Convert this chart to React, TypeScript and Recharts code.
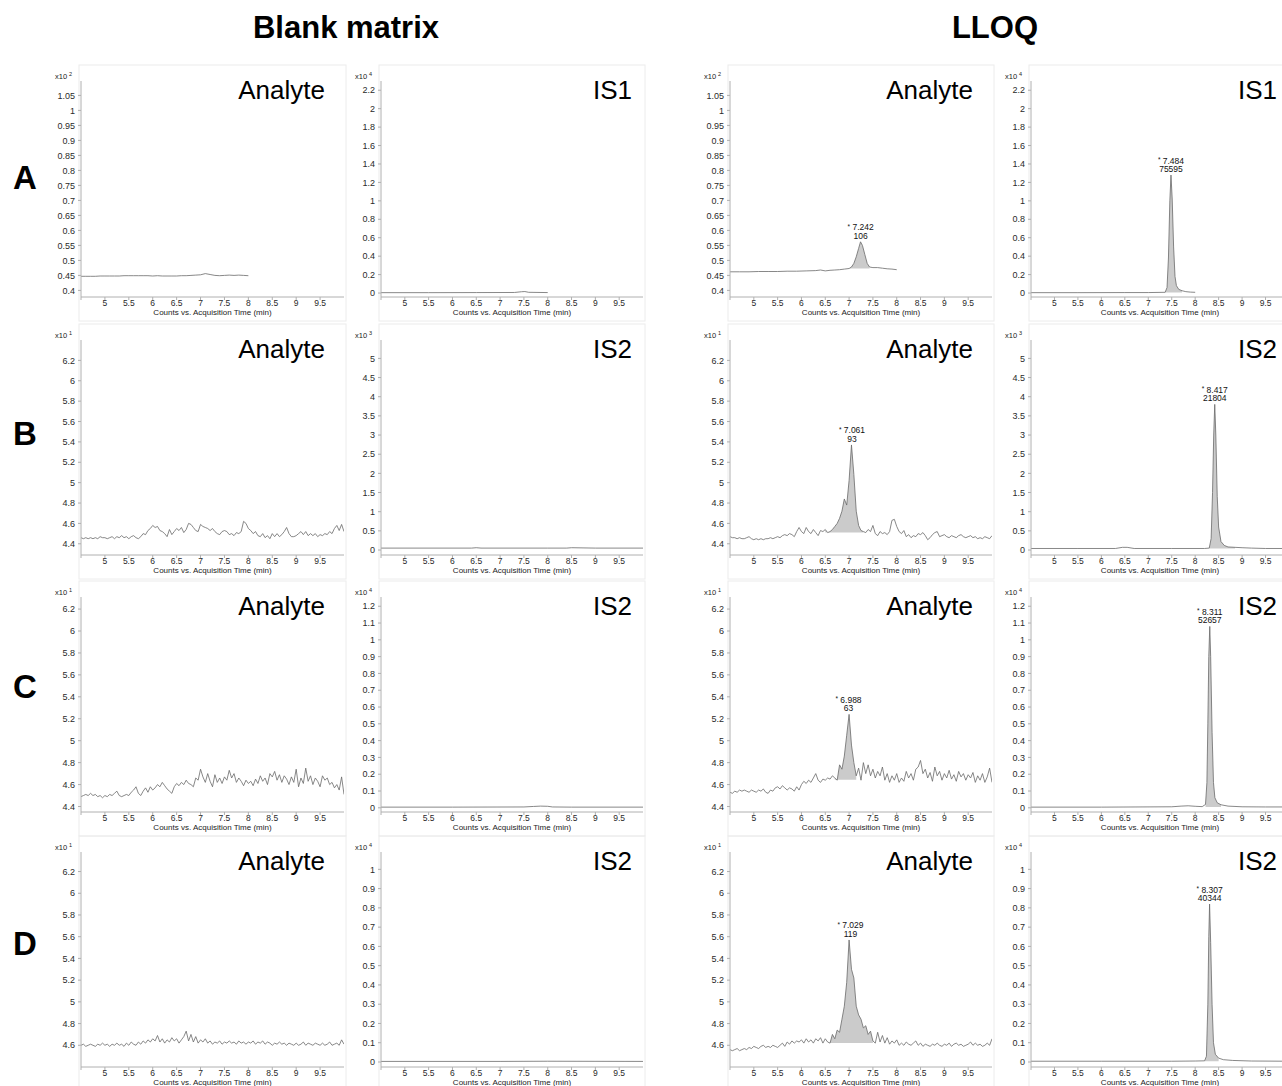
import React from 'react';
import { ComposedChart, Line, Area, XAxis, YAxis, ReferenceDot, Label } from 'recharts';

const FONT = '"Liberation Sans", Arial, Helvetica, sans-serif';

// acquisition time grids (min)
const GRID = [
  4.5, 4.55, 4.6, 4.65, 4.7, 4.75, 4.8, 4.85, 4.9, 4.95,
  5, 5.05, 5.1, 5.15, 5.2, 5.25, 5.3, 5.35, 5.4, 5.45,
  5.5, 5.55, 5.6, 5.65, 5.7, 5.75, 5.8, 5.85, 5.9, 5.95,
  6, 6.05, 6.1, 6.15, 6.2, 6.25, 6.3, 6.35, 6.4, 6.45,
  6.5, 6.55, 6.6, 6.65, 6.7, 6.75, 6.8, 6.85, 6.9, 6.95,
  7, 7.05, 7.1, 7.15, 7.2, 7.25, 7.3, 7.35, 7.4, 7.45,
  7.5, 7.55, 7.6, 7.65, 7.7, 7.75, 7.8, 7.85, 7.9, 7.95,
  8, 8.05, 8.1, 8.15, 8.2, 8.25, 8.3, 8.35, 8.4, 8.45,
  8.5, 8.55, 8.6, 8.65, 8.7, 8.75, 8.8, 8.85, 8.9, 8.95,
  9, 9.05, 9.1, 9.15, 9.2, 9.25, 9.3, 9.35, 9.4, 9.45,
  9.5, 9.55, 9.6, 9.65, 9.7, 9.75, 9.8, 9.85, 9.9, 9.95,
  10,
];
const GRID_A = [
  4.5, 4.6, 4.7, 4.8, 4.9, 5, 5.1, 5.2, 5.3, 5.4,
  5.5, 5.6, 5.7, 5.8, 5.9, 6, 6.1, 6.2, 6.3, 6.4,
  6.5, 6.6, 6.7, 6.8, 6.9, 7, 7.1, 7.2, 7.3, 7.4,
  7.5, 7.6, 7.7, 7.8, 7.9, 8,
];

const X_DOMAIN = [4.5, 10];
const X_TICKS = [4.5, 5, 5.5, 6, 6.5, 7, 7.5, 8, 8.5, 9, 9.5];

// ---- row A ----
const A1_BLANK_ANALYTE = [
  0.447, 0.447, 0.447, 0.447, 0.448, 0.448, 0.448, 0.448, 0.448, 0.449,
  0.449, 0.449, 0.449, 0.449, 0.449, 0.448, 0.449, 0.448, 0.448, 0.448,
  0.448, 0.449, 0.449, 0.45, 0.451, 0.452, 0.456, 0.453, 0.45, 0.449,
  0.45, 0.451, 0.45, 0.451, 0.45, 0.449,
];
const A2_TIMES = [4.5, 5.5, 6.5, 7.3, 7.45, 7.52, 7.6, 8.0];
const A2_BLANK_IS1 = [0.004, 0.004, 0.005, 0.006, 0.014, 0.016, 0.008, 0.005];
const A3_TIMES = [
  4.5, 4.7, 4.9, 5.1, 5.3, 5.5, 5.7, 5.9, 6.1, 6.3, 6.4, 6.5, 6.6, 6.7, 6.8, 6.9,
  7.0, 7.05, 7.1, 7.15, 7.2, 7.24, 7.28, 7.33, 7.38, 7.43, 7.5, 7.6, 7.7, 7.8, 7.9, 8.0,
];
const A3_LLOQ_ANALYTE = [
  0.462, 0.462, 0.462, 0.463, 0.463, 0.463, 0.464, 0.464, 0.465, 0.466, 0.468, 0.465, 0.467, 0.468, 0.469, 0.471,
  0.473, 0.478, 0.49, 0.512, 0.54, 0.562, 0.55, 0.52, 0.49, 0.478, 0.476, 0.476, 0.474, 0.472, 0.471, 0.469,
];
const A4_TIMES = [4.5, 5.5, 6.5, 7.0, 7.36, 7.4, 7.43, 7.46, 7.484, 7.51, 7.54, 7.57, 7.6, 7.65, 7.72, 7.8, 7.9, 8.0];
const A4_LLOQ_IS1 = [0.004, 0.004, 0.005, 0.005, 0.008, 0.06, 0.38, 1.0, 1.28, 1.02, 0.5, 0.18, 0.08, 0.04, 0.025, 0.015, 0.01, 0.008];

// ---- row B ----
const B1_BLANK_ANALYTE = [
  4.46, 4.45, 4.46, 4.45, 4.46, 4.45, 4.46, 4.45, 4.47, 4.46,
  4.46, 4.45, 4.46, 4.47, 4.45, 4.47, 4.46, 4.48, 4.46, 4.47,
  4.45, 4.47, 4.48, 4.46, 4.45, 4.47, 4.5, 4.49, 4.53, 4.55,
  4.58, 4.56, 4.57, 4.53, 4.52, 4.5, 4.47, 4.54, 4.49, 4.52,
  4.55, 4.53, 4.56, 4.51, 4.54, 4.6, 4.59, 4.56, 4.53, 4.52,
  4.59, 4.57, 4.56, 4.55, 4.53, 4.55, 4.52, 4.5, 4.49, 4.52,
  4.53, 4.52, 4.49, 4.5, 4.48, 4.51, 4.5, 4.52, 4.62, 4.6,
  4.55, 4.53, 4.5, 4.52, 4.48, 4.47, 4.5, 4.46, 4.48, 4.45,
  4.5, 4.47, 4.5, 4.47, 4.49, 4.52, 4.56, 4.5, 4.47, 4.47,
  4.48, 4.5, 4.52, 4.49, 4.52, 4.48, 4.5, 4.48, 4.5, 4.47,
  4.49, 4.48, 4.5, 4.49, 4.52, 4.5, 4.55, 4.58, 4.53, 4.59,
  4.52,
];
const B2_TIMES = [4.5, 6.4, 6.5, 6.6, 8.0, 8.4, 8.5, 9.0, 10];
const B2_BLANK_IS2 = [0.05, 0.05, 0.06, 0.05, 0.05, 0.05, 0.06, 0.05, 0.05];
const B3_LLOQ_ANALYTE = [
  4.47, 4.46, 4.46, 4.45, 4.46, 4.45, 4.45, 4.46, 4.47, 4.45,
  4.44, 4.45, 4.44, 4.45, 4.44, 4.45, 4.45, 4.46, 4.45, 4.46,
  4.47, 4.46, 4.48, 4.49, 4.48, 4.5, 4.49, 4.47, 4.52, 4.56,
  4.52, 4.5, 4.56, 4.52, 4.5, 4.54, 4.51, 4.48, 4.53, 4.52,
  4.54, 4.51, 4.52, 4.54, 4.57, 4.6, 4.65, 4.72, 4.84, 4.78,
  5.02, 5.37, 5.08, 4.72, 4.58, 4.53, 4.52, 4.51, 4.54, 4.52,
  4.58, 4.5, 4.48, 4.52, 4.5, 4.51, 4.49, 4.52, 4.63, 4.64,
  4.57, 4.52, 4.5, 4.53, 4.47, 4.49, 4.46, 4.48, 4.47, 4.5,
  4.49, 4.51, 4.48, 4.44, 4.46, 4.49, 4.51, 4.52, 4.47, 4.48,
  4.49, 4.47, 4.46, 4.48, 4.47, 4.46, 4.48, 4.49, 4.47, 4.46,
  4.47, 4.48, 4.46, 4.47, 4.45, 4.46, 4.45, 4.47, 4.46, 4.45,
  4.48,
];
const B4_TIMES = [
  4.5, 5.5, 6.3, 6.45, 6.55, 6.7, 7.5, 8.2, 8.3, 8.34, 8.37, 8.395,
  8.417, 8.44, 8.47, 8.5, 8.55, 8.62, 8.7, 8.85, 9.0, 9.2, 9.5, 10,
];
const B4_LLOQ_IS2 = [
  0.04, 0.04, 0.04, 0.07, 0.07, 0.04, 0.04, 0.04, 0.05, 0.3, 1.5, 3.0,
  3.8, 3.0, 1.4, 0.6, 0.22, 0.12, 0.08, 0.07, 0.06, 0.05, 0.04, 0.04,
];

// ---- row C ----
const C1_BLANK_ANALYTE = [
  4.49, 4.5, 4.51, 4.5, 4.52, 4.5, 4.51, 4.49, 4.5, 4.48,
  4.5, 4.49, 4.51, 4.5, 4.52, 4.54, 4.5, 4.49, 4.5, 4.51,
  4.5, 4.53, 4.55, 4.58, 4.52, 4.5, 4.54, 4.57, 4.53, 4.58,
  4.55, 4.57, 4.6, 4.58, 4.62, 4.59, 4.56, 4.54, 4.52, 4.58,
  4.61, 4.59, 4.62, 4.6, 4.64, 4.61, 4.6, 4.58, 4.66, 4.64,
  4.74, 4.67, 4.62, 4.7, 4.63, 4.58, 4.69, 4.62, 4.66, 4.61,
  4.67, 4.64, 4.73, 4.66, 4.7, 4.62, 4.66, 4.63, 4.59, 4.64,
  4.61, 4.63, 4.59, 4.65, 4.61, 4.68, 4.63, 4.66, 4.6, 4.7,
  4.67, 4.72, 4.64, 4.69, 4.62, 4.68, 4.65, 4.6, 4.67, 4.62,
  4.74, 4.58, 4.66, 4.61, 4.75, 4.63, 4.68, 4.6, 4.66, 4.63,
  4.58, 4.68, 4.64, 4.66, 4.6, 4.62, 4.57, 4.6, 4.55, 4.67,
  4.51,
];
const C2_TIMES = [4.5, 6.0, 7.5, 7.7, 7.85, 8.0, 8.1, 8.5, 10];
const C2_BLANK_IS2 = [0.004, 0.004, 0.005, 0.008, 0.01, 0.009, 0.005, 0.004, 0.004];
const C3_LLOQ_ANALYTE = [
  4.53, 4.52, 4.54, 4.53, 4.55, 4.54, 4.55, 4.54, 4.53, 4.55,
  4.54, 4.53, 4.55, 4.54, 4.56, 4.53, 4.52, 4.55, 4.54, 4.57,
  4.58, 4.56, 4.59, 4.57, 4.55, 4.57, 4.56, 4.54, 4.58, 4.55,
  4.6, 4.63, 4.61, 4.64, 4.62, 4.66, 4.7, 4.64, 4.62, 4.65,
  4.64, 4.66, 4.65, 4.68, 4.66, 4.64, 4.78, 4.74, 4.86, 5.05,
  5.24, 4.96, 4.8, 4.68, 4.75, 4.64, 4.8, 4.7, 4.78, 4.68,
  4.74, 4.66, 4.72, 4.68, 4.76, 4.64, 4.7, 4.62, 4.68, 4.64,
  4.7, 4.62, 4.66, 4.63, 4.72, 4.66, 4.7, 4.64, 4.74, 4.76,
  4.82, 4.7, 4.74, 4.66, 4.71, 4.63, 4.76, 4.68, 4.72, 4.64,
  4.7, 4.66, 4.73, 4.65, 4.69, 4.63, 4.72, 4.67, 4.7, 4.64,
  4.69, 4.66, 4.71, 4.62, 4.68, 4.64, 4.7, 4.62, 4.67, 4.75,
  4.62,
];
const C4_TIMES = [
  4.5, 6.0, 7.5, 7.7, 7.85, 8.0, 8.15, 8.22, 8.25, 8.27, 8.29,
  8.311, 8.33, 8.36, 8.39, 8.42, 8.47, 8.55, 8.7, 9.0, 9.5, 10,
];
const C4_LLOQ_IS2 = [
  0.004, 0.004, 0.006, 0.01, 0.012, 0.009, 0.007, 0.02, 0.15, 0.5, 0.9,
  1.08, 0.9, 0.45, 0.15, 0.06, 0.03, 0.018, 0.01, 0.006, 0.005, 0.005,
];

// ---- row D ----
const D1_BLANK_ANALYTE = [
  4.6, 4.61, 4.59, 4.6, 4.61, 4.6, 4.59, 4.61, 4.6, 4.62,
  4.6, 4.61, 4.59, 4.61, 4.6, 4.62, 4.6, 4.61, 4.59, 4.62,
  4.6, 4.63, 4.61, 4.6, 4.63, 4.61, 4.64, 4.62, 4.65, 4.63,
  4.66, 4.64, 4.69, 4.63, 4.66, 4.62, 4.65, 4.63, 4.67, 4.64,
  4.66, 4.62, 4.65, 4.68, 4.73, 4.64, 4.7, 4.63, 4.68, 4.62,
  4.65, 4.63, 4.66, 4.62, 4.64, 4.61, 4.63, 4.62, 4.64, 4.61,
  4.63, 4.62, 4.64, 4.62, 4.63, 4.61, 4.64, 4.62, 4.63, 4.61,
  4.63, 4.62, 4.64, 4.61, 4.63, 4.62, 4.64, 4.61, 4.63, 4.62,
  4.6, 4.62, 4.61, 4.63, 4.61, 4.62, 4.6, 4.62, 4.61, 4.6,
  4.62, 4.6, 4.61, 4.63, 4.6, 4.62, 4.61, 4.6, 4.62, 4.61,
  4.6, 4.62, 4.6, 4.61, 4.63, 4.6, 4.61, 4.62, 4.6, 4.65,
  4.61,
];
const D2_TIMES = [4.5, 7.0, 8.0, 10];
const D2_BLANK_IS2 = [0.003, 0.003, 0.004, 0.003];
const D3_LLOQ_ANALYTE = [
  4.56, 4.55, 4.56, 4.57, 4.55, 4.56, 4.57, 4.56, 4.58, 4.57,
  4.59, 4.58, 4.57, 4.59, 4.6, 4.58, 4.59, 4.58, 4.6, 4.59,
  4.58, 4.6, 4.62, 4.59, 4.63, 4.61, 4.64, 4.62, 4.64, 4.63,
  4.65, 4.62, 4.66, 4.63, 4.65, 4.62, 4.66, 4.64, 4.67, 4.62,
  4.66, 4.63, 4.62, 4.7, 4.66, 4.74, 4.72, 4.84, 4.96, 5.18,
  5.57, 5.3, 5.22, 4.96, 4.88, 4.84, 4.76, 4.78, 4.7, 4.73,
  4.64, 4.62, 4.72, 4.63, 4.69, 4.62, 4.67, 4.61, 4.64, 4.62,
  4.65, 4.6, 4.62, 4.6, 4.63, 4.61, 4.6, 4.62, 4.64, 4.6,
  4.62, 4.59, 4.61, 4.6, 4.59, 4.61, 4.6, 4.62, 4.6, 4.59,
  4.61, 4.6, 4.62, 4.59, 4.61, 4.62, 4.6, 4.61, 4.59, 4.6,
  4.61, 4.63, 4.6, 4.62, 4.6, 4.61, 4.59, 4.6, 4.62, 4.6,
  4.66,
];
const D4_TIMES = [4.5, 6.0, 7.5, 8.0, 8.2, 8.24, 8.27, 8.29, 8.307, 8.33, 8.36, 8.39, 8.43, 8.5, 8.6, 8.8, 9.2, 10];
const D4_LLOQ_IS2 = [0.004, 0.004, 0.004, 0.005, 0.006, 0.03, 0.3, 0.65, 0.82, 0.62, 0.3, 0.1, 0.04, 0.02, 0.012, 0.008, 0.005, 0.004];

// integration windows: [start, end, baseline]
const A3_WIN = [7.0, 7.43, 0.473];
const A4_WIN = [7.36, 7.72, 0.005];
const B3_WIN = [6.5, 7.3, 4.51];
const B4_WIN = [8.3, 8.85, 0.04];
const C3_WIN = [6.7, 7.15, 4.645];
const C4_WIN = [8.22, 8.55, 0.005];
const D3_WIN = [6.6, 7.5, 4.62];
const D4_WIN = [8.2, 8.5, 0.004];

// peak annotations (RT, apex height, area)
const A3_PEAK = { rt: 7.242, apex: 0.562, area: '106' };
const A4_PEAK = { rt: 7.484, apex: 1.28, area: '75595' };
const B3_PEAK = { rt: 7.061, apex: 5.37, area: '93' };
const B4_PEAK = { rt: 8.417, apex: 3.8, area: '21804' };
const C3_PEAK = { rt: 6.988, apex: 5.24, area: '63' };
const C4_PEAK = { rt: 8.311, apex: 1.08, area: '52657' };
const D3_PEAK = { rt: 7.029, apex: 5.57, area: '119' };
const D4_PEAK = { rt: 8.307, apex: 0.82, area: '40344' };

// y axes
const DOM_A_ANALYTE = [0.378, 1.098];
const TICKS_A_ANALYTE = [0.4, 0.45, 0.5, 0.55, 0.6, 0.65, 0.7, 0.75, 0.8, 0.85, 0.9, 0.95, 1, 1.05];
const DOM_A_IS1 = [-0.043, 2.3];
const TICKS_IS1 = [0, 0.2, 0.4, 0.6, 0.8, 1, 1.2, 1.4, 1.6, 1.8, 2, 2.2];
const DOM_B_ANALYTE = [4.29, 6.4];
const DOM_C_ANALYTE = [4.35, 6.31];
const TICKS_ANALYTE_BC = [4.4, 4.6, 4.8, 5, 5.2, 5.4, 5.6, 5.8, 6, 6.2];
const DOM_D_ANALYTE = [4.4, 6.38];
const TICKS_ANALYTE_D = [4.6, 4.8, 5, 5.2, 5.4, 5.6, 5.8, 6, 6.2];
const DOM_B_IS2 = [-0.13, 5.48];
const TICKS_IS2_B = [0, 0.5, 1, 1.5, 2, 2.5, 3, 3.5, 4, 4.5, 5];
const DOM_C_IS2 = [-0.025, 1.255];
const TICKS_IS2_C = [0, 0.1, 0.2, 0.3, 0.4, 0.5, 0.6, 0.7, 0.8, 0.9, 1, 1.1, 1.2];
const DOM_D_IS2 = [-0.026, 1.09];
const TICKS_IS2_D = [0, 0.1, 0.2, 0.3, 0.4, 0.5, 0.6, 0.7, 0.8, 0.9, 1];

const ROW_LETTERS = ['A', 'B', 'C', 'D'];

// layout
const COLS = [
  { axisX: 81, plotW: 263, labelEnd: 325 },
  { axisX: 381, plotW: 262, labelEnd: 632 },
  { axisX: 730, plotW: 262, labelEnd: 973 },
  { axisX: 1031, plotW: 258, labelEnd: 1277 },
];
const ROWS = [
  { top: 81, bottom: 297, letterY: 189 },
  { top: 340, bottom: 555, letterY: 445 },
  { top: 597, bottom: 812, letterY: 698 },
  { top: 852, bottom: 1067, letterY: 955 },
];

type Peak = { rt: number; apex: number; area: string };
type PanelDef = {
  row: number;
  col: number;
  times: number[];
  values: number[];
  domain: number[];
  ticks: number[];
  exp: string;
  label: string;
  win?: number[];
  peak?: Peak;
};

const PANELS: PanelDef[] = [
  { row: 0, col: 0, times: GRID_A, values: A1_BLANK_ANALYTE, domain: DOM_A_ANALYTE, ticks: TICKS_A_ANALYTE, exp: '2', label: 'Analyte' },
  { row: 0, col: 1, times: A2_TIMES, values: A2_BLANK_IS1, domain: DOM_A_IS1, ticks: TICKS_IS1, exp: '4', label: 'IS1' },
  { row: 0, col: 2, times: A3_TIMES, values: A3_LLOQ_ANALYTE, domain: DOM_A_ANALYTE, ticks: TICKS_A_ANALYTE, exp: '2', label: 'Analyte', win: A3_WIN, peak: A3_PEAK },
  { row: 0, col: 3, times: A4_TIMES, values: A4_LLOQ_IS1, domain: DOM_A_IS1, ticks: TICKS_IS1, exp: '4', label: 'IS1', win: A4_WIN, peak: A4_PEAK },

  { row: 1, col: 0, times: GRID, values: B1_BLANK_ANALYTE, domain: DOM_B_ANALYTE, ticks: TICKS_ANALYTE_BC, exp: '1', label: 'Analyte' },
  { row: 1, col: 1, times: B2_TIMES, values: B2_BLANK_IS2, domain: DOM_B_IS2, ticks: TICKS_IS2_B, exp: '3', label: 'IS2' },
  { row: 1, col: 2, times: GRID, values: B3_LLOQ_ANALYTE, domain: DOM_B_ANALYTE, ticks: TICKS_ANALYTE_BC, exp: '1', label: 'Analyte', win: B3_WIN, peak: B3_PEAK },
  { row: 1, col: 3, times: B4_TIMES, values: B4_LLOQ_IS2, domain: DOM_B_IS2, ticks: TICKS_IS2_B, exp: '3', label: 'IS2', win: B4_WIN, peak: B4_PEAK },

  { row: 2, col: 0, times: GRID, values: C1_BLANK_ANALYTE, domain: DOM_C_ANALYTE, ticks: TICKS_ANALYTE_BC, exp: '1', label: 'Analyte' },
  { row: 2, col: 1, times: C2_TIMES, values: C2_BLANK_IS2, domain: DOM_C_IS2, ticks: TICKS_IS2_C, exp: '4', label: 'IS2' },
  { row: 2, col: 2, times: GRID, values: C3_LLOQ_ANALYTE, domain: DOM_C_ANALYTE, ticks: TICKS_ANALYTE_BC, exp: '1', label: 'Analyte', win: C3_WIN, peak: C3_PEAK },
  { row: 2, col: 3, times: C4_TIMES, values: C4_LLOQ_IS2, domain: DOM_C_IS2, ticks: TICKS_IS2_C, exp: '4', label: 'IS2', win: C4_WIN, peak: C4_PEAK },

  { row: 3, col: 0, times: GRID, values: D1_BLANK_ANALYTE, domain: DOM_D_ANALYTE, ticks: TICKS_ANALYTE_D, exp: '1', label: 'Analyte' },
  { row: 3, col: 1, times: D2_TIMES, values: D2_BLANK_IS2, domain: DOM_D_IS2, ticks: TICKS_IS2_D, exp: '4', label: 'IS2' },
  { row: 3, col: 2, times: GRID, values: D3_LLOQ_ANALYTE, domain: DOM_D_ANALYTE, ticks: TICKS_ANALYTE_D, exp: '1', label: 'Analyte', win: D3_WIN, peak: D3_PEAK },
  { row: 3, col: 3, times: D4_TIMES, values: D4_LLOQ_IS2, domain: DOM_D_IS2, ticks: TICKS_IS2_D, exp: '4', label: 'IS2', win: D4_WIN, peak: D4_PEAK },
];

const fmtY = (v: number) => String(parseFloat(v.toFixed(3)));
const fmtX = (v: number) => (v === 4.5 ? '' : String(v));

const AXIS_GRAY = '#b0b0b0';
const TRACE = '#6a6a6a';
const FILL = '#cbcbcb';

const Panel = ({ def }: { def: PanelDef }) => {
  const c = COLS[def.col];
  const r = ROWS[def.row];
  const plotH = r.bottom - r.top;
  const win = def.win;
  const rows = def.times.map((t, i) => {
    const y = def.values[i];
    const inside = win && t >= win[0] && t <= win[1];
    return { t, y, band: inside ? [win![2], y] : null };
  });
  const peak = def.peak;

  return (
    <div style={{ position: 'absolute', left: c.axisX - 30, top: r.top - 20 }}>
      <ComposedChart
        width={30 + c.plotW + 2}
        height={20 + plotH + 21}
        data={rows}
        margin={{ top: 20, right: 2, left: 0, bottom: 0 }}
      >
        <XAxis
          type="number"
          dataKey="t"
          domain={X_DOMAIN}
          ticks={X_TICKS}
          tickFormatter={fmtX}
          allowDataOverflow
          interval={0}
          height={21}
          tickSize={3}
          tickMargin={0}
          stroke={AXIS_GRAY}
          tick={{ fontSize: 8.5, fill: '#2a2a2a' }}
        >
          <Label value="Counts vs. Acquisition Time (min)" position="insideBottom" offset={3} fontSize={8} fill="#222" />
        </XAxis>
        <YAxis
          type="number"
          domain={def.domain}
          ticks={def.ticks}
          tickFormatter={fmtY}
          allowDataOverflow
          interval={0}
          width={30}
          tickSize={3}
          tickMargin={3}
          stroke={AXIS_GRAY}
          tick={{ fontSize: 9, fill: '#2a2a2a' }}
        />
        {win && (
          <Area
            type="linear"
            dataKey="band"
            stroke="none"
            fill={FILL}
            fillOpacity={1}
            isAnimationActive={false}
            connectNulls={false}
          />
        )}
        <Line
          type="linear"
          dataKey="y"
          stroke={TRACE}
          strokeWidth={0.8}
          dot={false}
          activeDot={false}
          isAnimationActive={false}
        />
        {peak && (
          <ReferenceDot
            x={peak.rt}
            y={peak.apex}
            shape={(p: any) => (
              <g>
                <text x={p.cx} y={p.cy - 11.5} textAnchor="middle" fontSize={8.5} fill="#111">
                  <tspan fontSize={6.5} dy={-1.5}>*</tspan>
                  <tspan dy={1.5}>{' ' + peak.rt.toFixed(3)}</tspan>
                </text>
                <text x={p.cx} y={p.cy - 3} textAnchor="middle" fontSize={8.5} fill="#111">
                  {peak.area}
                </text>
              </g>
            )}
          />
        )}
      </ComposedChart>
    </div>
  );
};

export default function App() {
  return (
    <div
      style={{
        position: 'absolute',
        left: 0,
        top: 0,
        width: 1282,
        height: 1086,
        overflow: 'hidden',
        background: '#fff',
        fontFamily: FONT,
      }}
    >
      <svg width={1282} height={1086} style={{ position: 'absolute', left: 0, top: 0 }}>
        <text x={346} y={38} textAnchor="middle" fontSize={31} fontWeight="bold" fill="#000">
          Blank matrix
        </text>
        <text x={995} y={38} textAnchor="middle" fontSize={31} fontWeight="bold" fill="#000">
          LLOQ
        </text>
        {ROWS.map((r, i) => (
          <text key={'L' + i} x={25} y={r.letterY} textAnchor="middle" fontSize={33} fontWeight="bold" fill="#000">
            {ROW_LETTERS[i]}
          </text>
        ))}
        {PANELS.map((p, i) => {
          const c = COLS[p.col];
          const r = ROWS[p.row];
          return (
            <g key={'P' + i}>
              <rect
                x={c.axisX - 2}
                y={r.top - 16}
                width={c.plotW + 4}
                height={r.bottom - r.top + 40}
                fill="none"
                stroke="#ececec"
              />
              <text x={c.axisX - 26} y={r.top - 2} fontSize={7.5} fill="#222">
                x10
                <tspan dx={2} dy={-3} fontSize={5.5}>
                  {p.exp}
                </tspan>
              </text>
              <text x={c.labelEnd} y={r.top + 18} textAnchor="end" fontSize={26} fill="#000">
                {p.label}
              </text>
            </g>
          );
        })}
      </svg>
      {PANELS.map((p, i) => (
        <Panel key={i} def={p} />
      ))}
    </div>
  );
}
